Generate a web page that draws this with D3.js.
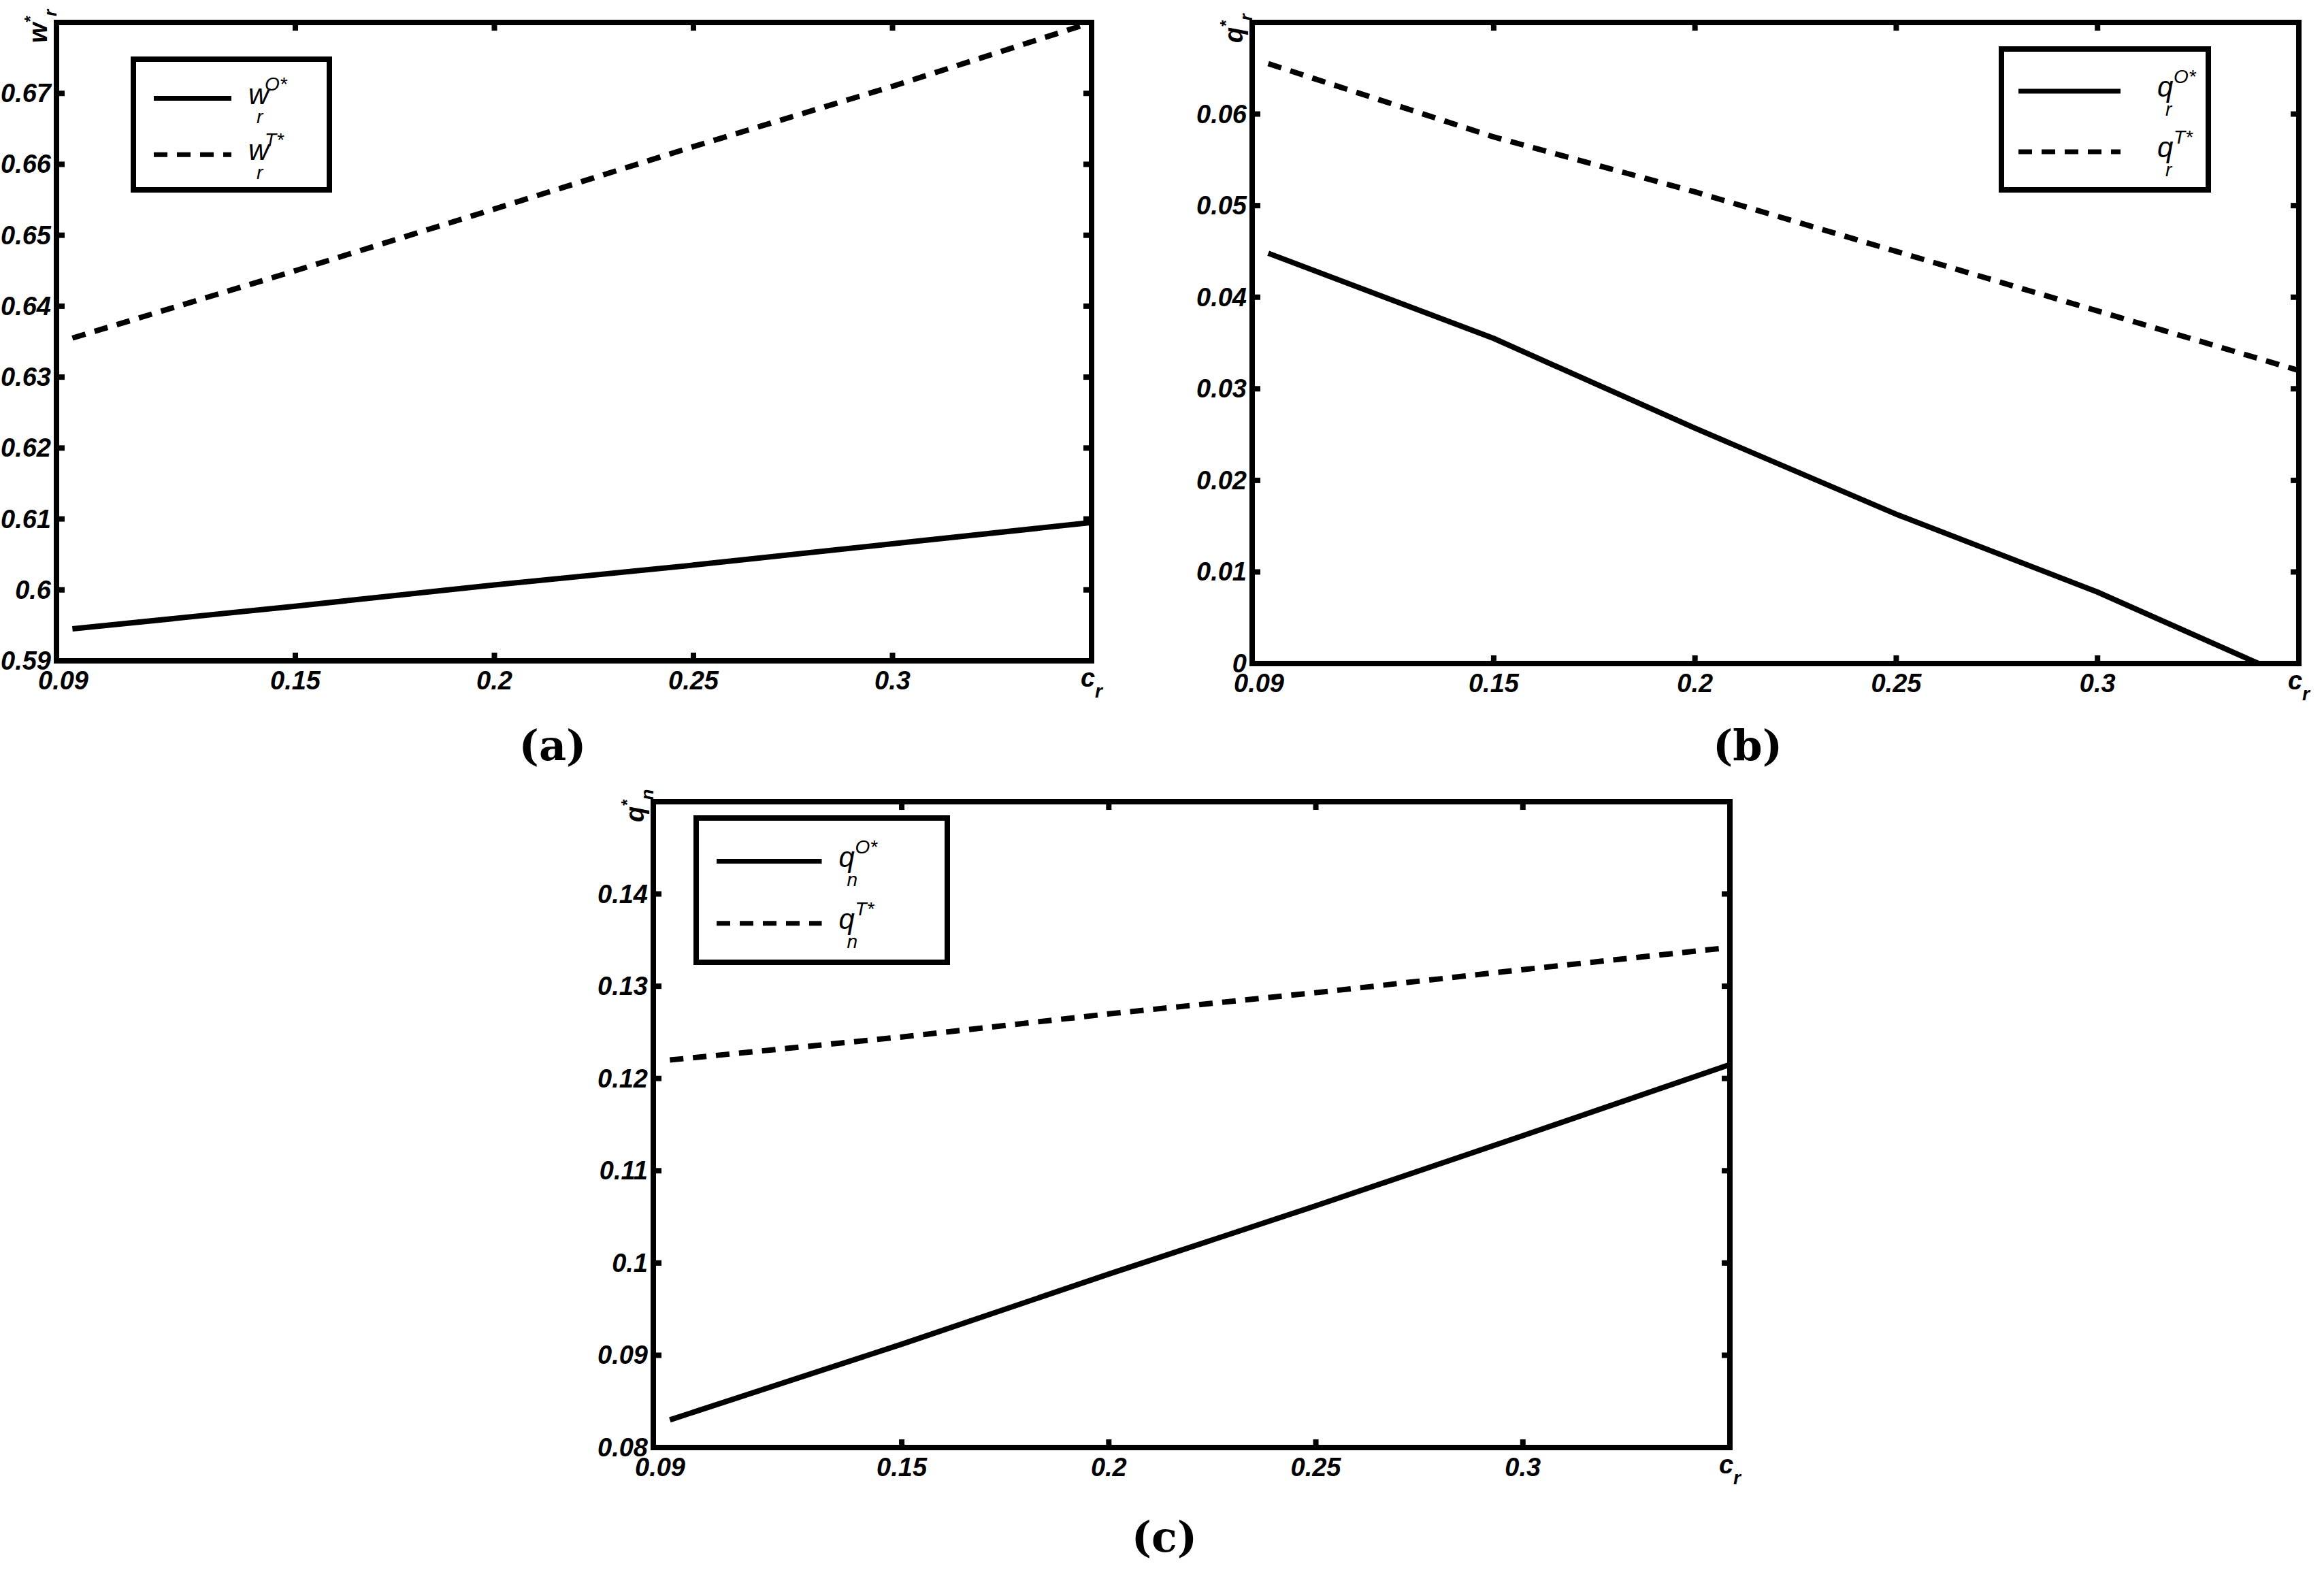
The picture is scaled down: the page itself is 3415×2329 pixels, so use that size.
<!DOCTYPE html><html><head><meta charset="utf-8"><script src="https://cdn.jsdelivr.net/npm/d3@7"></script>
<style>body{margin:0;background:#fff}</style></head><body>
<script>
const xs = [0.094, 0.15, 0.2, 0.25, 0.3, 0.35];
const xsB = [0.094, 0.15, 0.2, 0.25, 0.3, 0.34];
const xTicks = [0.09, 0.15, 0.2, 0.25, 0.3];
const xTickLabels = ["0.09", "0.15", "0.2", "0.25", "0.3"];
const aSolid = [0.5945, 0.5977, 0.6007, 0.6035, 0.6065, 0.6095];
const aDash = [0.6355, 0.645, 0.6537, 0.6625, 0.671, 0.68];
const aTicks = [0.59, 0.6, 0.61, 0.62, 0.63, 0.64, 0.65, 0.66, 0.67];
const bSolid = [0.0448, 0.0355, 0.0257, 0.0163, 0.0078, 0.0];
const bDash = [0.0655, 0.0575, 0.0515, 0.045, 0.0385, 0.032];
const bTicks = [0, 0.01, 0.02, 0.03, 0.04, 0.05, 0.06];
const cSolid = [0.083, 0.0912, 0.0988, 0.1062, 0.1138, 0.1215];
const cDash = [0.122, 0.1245, 0.127, 0.1293, 0.1318, 0.1342];
const cTicks = [0.08, 0.09, 0.1, 0.11, 0.12, 0.13, 0.14];

const W = 3415, H = 2329;
const svg = d3.select("body").append("svg").attr("width", W).attr("height", H);
const panels = [
 {box:[83,33,1604,971], yd:[0.59,0.68], ticks:aTicks, sx:xs, s:aSolid, d:aDash, v:"w", sub:"r", leg:[196,87,484,279], legRight:false, cap:"(a)", capXY:[812,1117]},
 {box:[1840,33,3378,975], yd:[0,0.07], ticks:bTicks, sx:xsB, s:bSolid, d:bDash, v:"q", sub:"r", leg:[2941,72,3245,279], legRight:true, cap:"(b)", capXY:[2568,1117]},
 {box:[960,1178,2542,2127], yd:[0.08,0.15], ticks:cTicks, sx:xs, s:cSolid, d:cDash, v:"q", sub:"n", leg:[1023,1202,1392,1414], legRight:false, cap:"(c)", capXY:[1711,2280]}
];
const tf = "Liberation Sans, Arial, sans-serif";
panels.forEach(p => {
  const [l,t,r,b] = p.box;
  const x = d3.scaleLinear().domain([0.09,0.35]).range([l,r]);
  const y = d3.scaleLinear().domain(p.yd).range([b,t]);
  const g = svg.append("g");
  const line = d3.line().x(d=>x(d[0])).y(d=>y(d[1]));
  g.append("path").attr("d", line(p.sx.map((v,i)=>[v,p.s[i]]))).attr("fill","none").attr("stroke","#000").attr("stroke-width",8);
  g.append("path").attr("d", line(xs.map((v,i)=>[v,p.d[i]]))).attr("fill","none").attr("stroke","#000").attr("stroke-width",8).attr("stroke-dasharray","20,14");
  const tl = 12;
  xTicks.slice(1).forEach(v=>{
    g.append("line").attr("x1",x(v)).attr("x2",x(v)).attr("y1",b).attr("y2",b-tl).attr("stroke","#000").attr("stroke-width",8);
    g.append("line").attr("x1",x(v)).attr("x2",x(v)).attr("y1",t).attr("y2",t+tl).attr("stroke","#000").attr("stroke-width",8);
  });
  p.ticks.slice(1).forEach(v=>{
    g.append("line").attr("y1",y(v)).attr("y2",y(v)).attr("x1",l).attr("x2",l+tl).attr("stroke","#000").attr("stroke-width",8);
    g.append("line").attr("y1",y(v)).attr("y2",y(v)).attr("x1",r).attr("x2",r-tl).attr("stroke","#000").attr("stroke-width",8);
  });
  g.append("rect").attr("x",l).attr("y",t).attr("width",r-l).attr("height",b-t).attr("fill","none").attr("stroke","#000").attr("stroke-width",8);
  xTicks.forEach((v,i)=>{
    g.append("text").attr("x",x(v)+(i==0?10:0)).attr("y",b+42).attr("text-anchor","middle").attr("font-family",tf).attr("font-weight","bold").attr("font-style","italic").attr("font-size",38).text(xTickLabels[i]);
  });
  const cl = g.append("text").attr("x",x(0.35)).attr("y",b+38).attr("text-anchor","middle").attr("font-family",tf).attr("font-weight","bold").attr("font-style","italic").attr("font-size",38);
  cl.append("tspan").text("c"); cl.append("tspan").attr("dy",16).attr("font-size",28).text("r");
  p.ticks.forEach(v=>{
    g.append("text").attr("x",l-8).attr("y",y(v)+13).attr("text-anchor","end").attr("font-family",tf).attr("font-weight","bold").attr("font-style","italic").attr("font-size",38).text(String(+v.toFixed(2)));
  });
  const yl = g.append("text").attr("transform",`translate(${l-14},${t+30}) rotate(-90)`).attr("text-anchor","start").attr("font-family",tf).attr("font-weight","bold").attr("font-style","italic").attr("font-size",38);
  yl.append("tspan").text(p.v); yl.append("tspan").attr("dy",-16).attr("font-size",24).text("*");
  yl.append("tspan").attr("dy",30).attr("font-size",26).text(p.sub);
  const [ll,lt,lr,lb] = p.leg;
  g.append("rect").attr("x",ll).attr("y",lt).attr("width",lr-ll).attr("height",lb-lt).attr("fill","#fff").attr("stroke","#000").attr("stroke-width",8);
  const rows = [{sup:"O*",dash:null,yy:lt+(lb-lt)*0.3},{sup:"T*",dash:"20,14",yy:lt+(lb-lt)*0.73}];
  rows.forEach(rw=>{
    const lx1 = p.legRight? ll+25 : ll+30, lx2 = p.legRight? ll+175 : ll+(lr-ll)*0.5;
    g.append("line").attr("x1",lx1).attr("x2",lx2).attr("y1",rw.yy).attr("y2",rw.yy).attr("stroke","#000").attr("stroke-width",7).attr("stroke-dasharray",rw.dash);
    const tx0 = p.legRight? lr-75 : lx2+25;
    g.append("text").attr("x",tx0).attr("y",rw.yy+8).attr("font-family",tf).attr("font-style","italic").attr("font-size",42).text(p.v);
    g.append("text").attr("x",tx0+24).attr("y",rw.yy-12).attr("font-family",tf).attr("font-style","italic").attr("font-size",28).text(rw.sup);
    g.append("text").attr("x",tx0+12).attr("y",rw.yy+36).attr("font-family",tf).attr("font-style","italic").attr("font-size",28).text(p.sub);
  });
  svg.append("text").attr("x",p.capXY[0]).attr("y",p.capXY[1]).attr("text-anchor","middle").attr("font-family","DejaVu Serif, Liberation Serif, serif").attr("font-weight","bold").attr("font-size",62).text(p.cap);
});
</script></body></html>
